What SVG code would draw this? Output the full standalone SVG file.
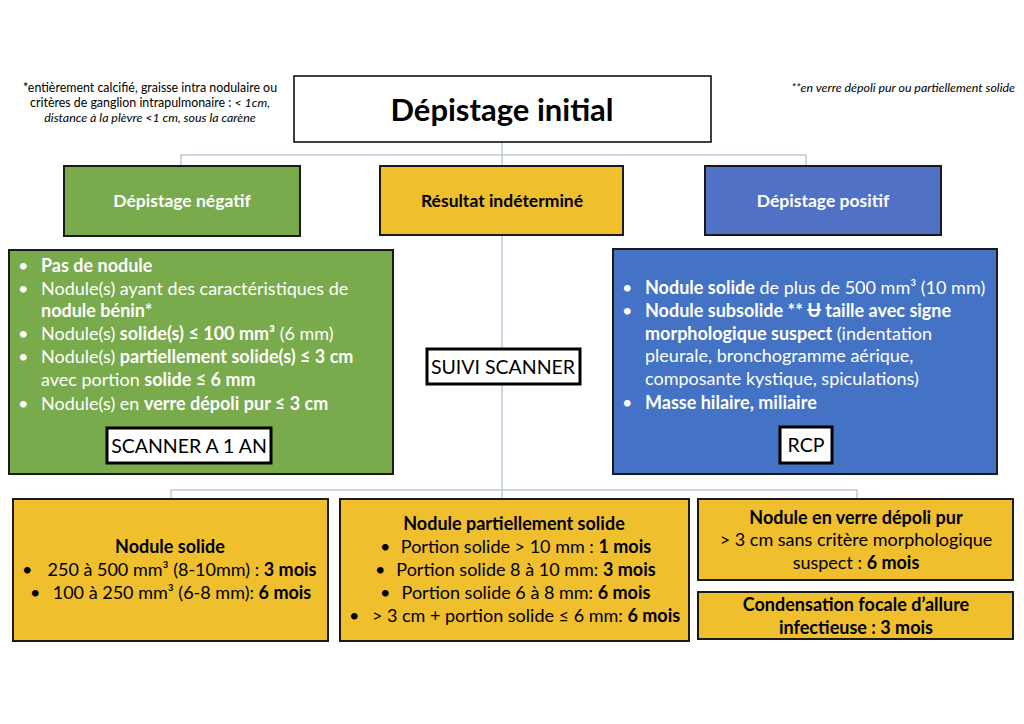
<svg xmlns="http://www.w3.org/2000/svg" width="1024" height="724" viewBox="0 0 1024 724">
<style>
text{font-family:Lato,"Open Sans","Liberation Sans",sans-serif;}
.b{font-weight:bold;}
.i{font-style:italic;}
.note{font-size:12.4px;fill:#000;}
.w{fill:#fff;font-size:18px;}
.k{fill:#000;font-size:18px;}
.hd{font-size:17.5px;font-weight:bold;}
.box{stroke:#1a1a1a;stroke-width:2;}
.lbl{fill:#fff;stroke:#000;stroke-width:3;}
.lt{fill:#000;font-size:19.5px;text-anchor:middle;}
.conn{stroke:#b8c9dc;stroke-width:1.5;fill:none;}
.c{text-anchor:middle;}
</style>
<rect width="1024" height="724" fill="#fff"/>

<g id="connectors">
<path class="conn" d="M502 142V155M181 166V155H806V166M502 155V166"/>
<path class="conn" d="M502 235V490M171 499V490H857V499M502 490V499"/>
</g>

<g id="notes">
<text class="note c" x="150" y="92">*entièrement calcifié, graisse intra nodulaire ou</text>
<text class="note c" x="150" y="107">critères de ganglion intrapulmonaire : <tspan class="i">&lt; 1cm,</tspan></text>
<text class="note c i" x="150" y="122">distance à la plèvre &lt;1 cm, sous la carène</text>
<text class="note i" x="1015" y="92" text-anchor="end">**en verre dépoli pur ou partiellement solide</text>
</g>

<g id="title">
<rect x="294" y="76" width="417" height="66" fill="#fff" stroke="#000" stroke-width="1.5"/>
<text class="b c" x="502" y="121" font-size="31" fill="#000">Dépistage initial</text>
</g>

<g id="neg-header">
<rect class="box" x="64" y="166" width="236" height="70" fill="#79aa4b"/>
<text class="hd c" x="182" y="207" fill="#fff">Dépistage négatif</text>
</g>

<g id="ind-header">
<rect class="box" x="380" y="166" width="243" height="69" fill="#efbf2e"/>
<text class="hd c" x="502" y="207" fill="#000">Résultat indéterminé</text>
</g>

<g id="pos-header">
<rect class="box" x="705" y="166" width="236" height="69" fill="#5171c7"/>
<text class="hd c" x="823" y="207" fill="#fff">Dépistage positif</text>
</g>

<g id="neg-box">
<rect class="box" x="9" y="250" width="384" height="224" fill="#79aa4b"/>
<text class="w" x="18" y="272">•</text>
<text class="w b" x="41" y="272">Pas de nodule</text>
<text class="w" x="18" y="295">•</text>
<text class="w" x="41" y="295">Nodule(s) ayant des caractéristiques de</text>
<text class="w b" x="41" y="317">nodule bénin*</text>
<text class="w" x="18" y="340">•</text>
<text class="w" x="41" y="340">Nodule(s) <tspan class="b">solide(s) ≤ 100 mm³</tspan> (6 mm)</text>
<text class="w" x="18" y="363">•</text>
<text class="w" x="41" y="363">Nodule(s) <tspan class="b">partiellement solide(s) ≤ 3 cm</tspan></text>
<text class="w" x="41" y="386">avec portion <tspan class="b">solide ≤ 6 mm</tspan></text>
<text class="w" x="18" y="410">•</text>
<text class="w" x="41" y="410">Nodule(s) en <tspan class="b">verre dépoli pur ≤ 3 cm</tspan></text>
</g>

<g id="scanner-1an">
<rect class="lbl" x="107" y="428" width="164" height="35"/>
<text class="lt" x="189" y="453">SCANNER A 1 AN</text>
</g>

<g id="suivi">
<rect class="lbl" x="427" y="349" width="153" height="35"/>
<text class="lt" x="503" y="374">SUIVI SCANNER</text>
</g>

<g id="pos-box">
<rect class="box" x="613" y="249" width="384" height="225" fill="#4472c4"/>
<text class="w" x="622" y="294">•</text>
<text class="w" x="645" y="294"><tspan class="b">Nodule solide</tspan> de plus de 500 mm³ (10 mm)</text>
<text class="w" x="622" y="317">•</text>
<text class="w b" x="645" y="317">Nodule subsolide ** Ʉ taille avec signe</text>
<text class="w" x="645" y="340"><tspan class="b">morphologique suspect</tspan> (indentation</text>
<text class="w" x="645" y="362">pleurale, bronchogramme aérique,</text>
<text class="w" x="645" y="385">composante kystique, spiculations)</text>
<text class="w" x="622" y="409">•</text>
<text class="w b" x="645" y="409">Masse hilaire, miliaire</text>
</g>

<g id="rcp">
<rect class="lbl" x="780" y="427" width="52" height="36"/>
<text class="lt" x="806" y="452">RCP</text>
</g>

<g id="solide">
<rect class="box" x="13" y="499" width="315" height="142" fill="#efbf2e"/>
<text class="k b c" x="170" y="553">Nodule solide</text>
<text class="k" x="22" y="576">•</text>
<text class="k c" x="182" y="576">250 à 500 mm³ (8-10mm) :  <tspan class="b">3 mois</tspan></text>
<text class="k" x="30" y="599">•</text>
<text class="k c" x="182" y="599">100 à 250 mm³ (6-8 mm): <tspan class="b">6 mois</tspan></text>
</g>

<g id="part-solide">
<rect class="box" x="340" y="499" width="349" height="142" fill="#efbf2e"/>
<text class="k b c" x="514" y="530">Nodule partiellement solide</text>
<text class="k" x="380" y="553">•</text>
<text class="k c" x="526" y="553">Portion solide &gt; 10 mm : <tspan class="b">1 mois</tspan></text>
<text class="k" x="375" y="576">•</text>
<text class="k c" x="526" y="576">Portion solide 8 à 10 mm: <tspan class="b">3 mois</tspan></text>
<text class="k" x="380" y="599">•</text>
<text class="k c" x="526" y="599">Portion solide 6 à 8 mm: <tspan class="b">6 mois</tspan></text>
<text class="k" x="349" y="622">•</text>
<text class="k c" x="526" y="622">&gt; 3 cm + portion solide ≤ 6 mm: <tspan class="b">6 mois</tspan></text>
</g>

<g id="verre">
<rect class="box" x="698" y="499" width="315" height="81" fill="#efbf2e"/>
<text class="k b c" x="856" y="524">Nodule en verre dépoli pur</text>
<text class="k c" x="856" y="546">&gt; 3 cm sans critère morphologique</text>
<text class="k c" x="856" y="569">suspect : <tspan class="b">6 mois</tspan></text>
</g>

<g id="condensation">
<rect class="box" x="698" y="592" width="315" height="47" fill="#efbf2e"/>
<text class="k b c" x="856" y="611">Condensation focale d’allure</text>
<text class="k b c" x="856" y="634">infectieuse : 3 mois</text>
</g>
</svg>
